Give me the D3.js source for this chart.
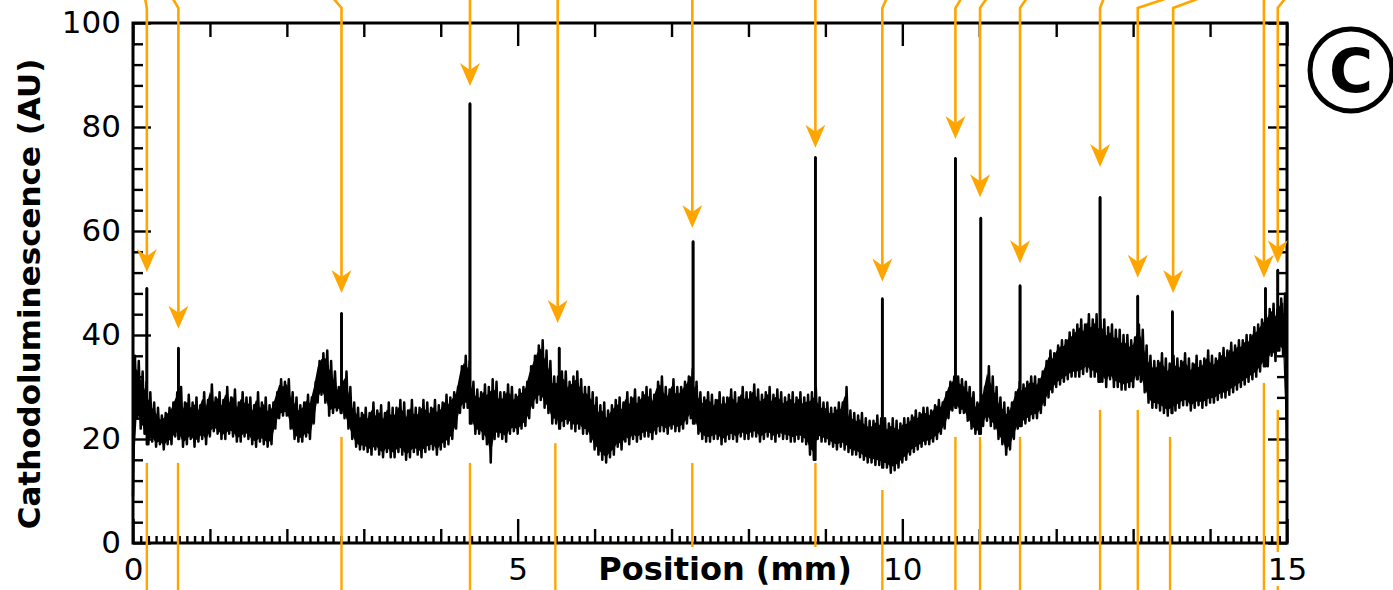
<!DOCTYPE html>
<html><head><meta charset="utf-8">
<script src="https://cdn.jsdelivr.net/npm/d3@7"></script>
<style>body{margin:0;background:#fff} svg{display:block}</style>
</head><body><svg id="c" width="1393" height="590"></svg>
<script>
// ---------- DATA ----------
const stepMM = 0.05; // sampling step of the envelope (mm)
const upper = [
 36,35,33,31,29,27,26,24.5,25,26,27,29,30,27,28.5,27,28,26.5,29,27.5,
 30.5,28,29,27.5,30,28,29.5,27,29,28,28,26.5,29,27,28,26.5,27,29,31.5,31,
 31.5,29,28,26.5,27,28.5,28,31,35,36.5,37,35,33,30,31,33,30,27,26,25,
 26,25,27,25.5,26.5,25,27,26,26,27.5,27,25.5,27.5,26,26,27.5,27,26,27.5,26.5,
 27,28.5,28,29,30,34,36,35,31,29.5,29,30.5,30,31.5,31,29,29,30.5,30,28.5,
 29.5,30,31,34,36,38,39,37,35,32,32,33,33,31,32,33,31.5,30,30,29,
 28,26.5,27,25.5,26.5,27.5,28,27,29,28,29.5,28,29,30,29.5,28.5,31,32,30,29.5,
 31.5,30,30,31,32,33.5,31,29,28,29,28.5,27.5,29,28,28,29.5,29,28,30,29,
 29,30.5,29.5,28.5,29,30,28.5,29.5,29,28,28.5,29,28,29,28,28.5,29,30,28,27,
 27,26,26,27,27,30,25.5,25,24.5,25,24,23.5,23.5,24.5,24,24,23,24,23.5,23,
 24,24,24.5,25.5,25,26,26,25.5,26.5,27.5,27,29,31,32,32,31.5,31,30,29,27,
 28,30,34,32,30,28,27,26,27,29,31,30.5,31,32,32,31.5,33,35,37,36.5,
 38,39,39,40.5,41,42,43,42,44,43,44,43,43,41.5,42,41,41,40,40,39,
 39.5,42,41,38,36,35,35,36.5,35.5,34.5,36,35.5,35,36.5,35.5,34.5,36,35,35.5,37,
 36,35.5,36.5,37.5,37,38.5,38,39,39,40,40,41.5,42,43,44,45,46,45,47,48,
 20];
const lower = [
 9,24,22,21,19,19.5,18.5,19,18,19,19,20.5,20,18.5,19,20,18.5,19.5,20,19,
 20.5,21.5,21,20,20,21,20.5,19.5,19.5,20.5,20,19,18.5,19.5,19,18.5,19,22,24,24.5,
 24.5,22,20,19.5,19.5,20.5,20,23,27,28.5,27,24.5,25,25.5,25,24,22,20,18.5,18,
 18,17.5,17,18,17,16.5,17.5,16.5,16.5,17.5,17,16,16.5,17.5,17,16.5,17.5,18,18,17,
 18,18.5,19,20,22,25,26,26,23,21,21,20,19,15.5,20,20.5,20,19.5,21,21.5,
 21,22,22.5,24,26,27,27.5,26,25,23,23,22,22.5,23,22,21.5,22,21,21,19.5,
 18,17,16,15.5,16.5,17,18.5,18,19.5,19,20,19.5,20,20.5,20.5,20,21,21.5,21.5,21,
 22,21.5,21.5,22,23,24,23,21,20,19.5,19.5,20,20,19,19.5,20,20,19.5,20.5,20,
 20,20.5,20.5,19.5,20,20.5,20,19.5,20.5,20,20,19.5,19.5,20,19.5,19,17,16,20,19.5,
 19.5,19,18.5,18,18.5,18,17.5,17,17,16.5,16,15.5,15.5,15,15,14.5,14.5,13.5,14,14.5,
 15.5,16,17,17.5,18,18.5,19,19,19.5,20,21,22,24,25.5,26,25,25,23.5,22,21,
 21,22.5,23.5,22.5,22,20,19,17,18,20,22,22.5,23,23.5,24,24,25,26.5,28,29,
 30,30.5,31,31.5,32,32,32,32.5,33,32,32,31,31,30,31.5,30,30,29.5,29.5,30,
 30,31.5,31,29,27,26,26,25.5,25,24.5,25,25.5,26,26.5,26.5,25.5,26,26.5,26,26.5,
 27,27,27.5,28,28,28.5,29,29.5,30,30.5,31,31.5,32,33,34,34,36,35,37,36,
 16];
const spikePos = [0.18,0.59,2.71,4.38,5.54,7.28,8.87,9.74,10.69,11.02,11.53,12.57,13.06,13.51,14.72,14.88];
const spikeVal = [49,37.5,44.2,84.5,37.5,58,74.2,47,74,62.5,49.5,66.5,47.5,44.5,49,52.5];

// annotation arrows (mm / AU)
const arrowTopX  = [0.156,0.513,2.60,4.38,5.52,7.27,8.87,9.80,10.77,11.10,11.62,12.62,13.45,13.87,14.70,14.98];
const arrowX     = [0.18,0.59,2.71,4.38,5.52,7.27,8.87,9.74,10.69,11.01,11.53,12.57,13.06,13.52,14.70,14.88];
const arrowTipV  = [52.1,41.2,48.1,87.9,42.3,60.6,76,50.3,77.7,66.5,53.8,72.3,51,48.1,51,53.8];
const stemX      = [0.18,0.585,2.71,4.38,5.49,7.27,8.87,9.74,10.69,11.01,11.53,12.57,13.06,13.48,14.70,14.88];
const stemStartV = [15.4,15.4,20.4,15.4,19.2,15.4,15.4,10.2,20.4,20.4,20.4,25.6,25.6,20.4,30.8,25.6];

const xMajor = [0,5,10,15];
const yMajor = [0,20,40,60,80,100];
const xLabel = "Position (mm)";
const yLabel = "Cathodoluminescence (AU)";
const panelLabel = "C";

// ---------- LAYOUT ----------
const W = 1393, H = 590;
const L = 133, R = 1287, T = 23, B = 543;
const ORANGE = "#ffa500";
const FONT = "DejaVu Sans";
const svg = d3.select("#c");
const x = d3.scaleLinear().domain([0,15]).range([L,R]);
const y = d3.scaleLinear().domain([0,100]).range([B,T]);

// ---------- AXES ----------
function ax(gen, tf, vals, size, labels, pad){
  const a = gen.tickValues(vals).tickSize(size).tickPadding(pad||0);
  if(!labels) a.tickFormat("");
  const g = svg.append("g").attr("transform", tf).call(a);
  g.select(".domain").remove();
  g.selectAll("line").attr("stroke","#000").attr("stroke-width",2.4);
  g.selectAll("text").attr("font-family",FONT).attr("font-size",31).attr("fill","#000");
  return g;
}
const yMinor = d3.range(0,101,4).filter(v=>v%20!==0);
const xMid = d3.range(0,16,1).filter(v=>v%5!==0);
const xMinor = d3.range(0,151,1).filter(v=>v%10!==0).map(v=>v/10);
ax(d3.axisLeft(y), `translate(${L},0)`, yMajor, -18, true, 12);
ax(d3.axisLeft(y), `translate(${L},0)`, yMinor, -10, false);
ax(d3.axisRight(y), `translate(${R},0)`, yMajor, -19, false);
ax(d3.axisRight(y), `translate(${R},0)`, yMinor, -10, false);
ax(d3.axisTop(x), `translate(0,${T})`, xMajor, -23, false);
ax(d3.axisTop(x), `translate(0,${T})`, xMid, -14, false);
ax(d3.axisBottom(x), `translate(0,${B})`, xMid, -14, false);
ax(d3.axisBottom(x), `translate(0,${B})`, xMinor, -7, false);
const xLab = ax(d3.axisBottom(x), `translate(0,${B})`, xMajor, -24, true, 15);

svg.append("rect").attr("x",L).attr("y",T).attr("width",R-L).attr("height",B-T)
  .attr("fill","none").attr("stroke","#000").attr("stroke-width",3);

// ---------- TRACE ----------
const env = lower.map((v,i)=>({p:i*stepMM, lo:v, hi:upper[i]}));
// dense core of the noisy trace
svg.append("path").datum(env)
  .attr("d", d3.area().x(d=>x(d.p))
    .y0(d=>y(d.lo + 0.1*(d.hi-d.lo))).y1(d=>y(d.hi - 0.14*(d.hi-d.lo))))
  .attr("fill","#000");
// noise excursions to the envelope
const pts = [];
env.forEach((d,i)=>{
  pts.push([d.p, d.lo]);
  pts.push([Math.min(15, d.p + stepMM/2), d.hi]);
});
spikePos.forEach((p,k)=>{
  const i = Math.round(p/stepMM);
  const base = lower[i];
  pts.push([p, base],[p, spikeVal[k]],[p, base]);
});
pts.sort((a,b)=>a[0]-b[0]);
const line = d3.line().x(d=>x(d[0])).y(d=>y(d[1]));
svg.append("path").attr("d", line(pts)).attr("fill","none")
  .attr("stroke","#000").attr("stroke-width",2.5).attr("stroke-linejoin","round");
svg.append("g").selectAll("line").data(spikePos).join("line")
  .attr("x1",d=>x(d)).attr("x2",d=>x(d))
  .attr("y1",d=>y(lower[Math.round(d/stepMM)]+4)).attr("y2",(d,k)=>y(spikeVal[k]))
  .attr("stroke","#000").attr("stroke-width",2.8);

// ---------- ARROWS ----------
const startV = y.invert(-2), kinkV = y.invert(8);
const ag = svg.append("g");
arrowX.forEach((ax_,i)=>{
  const tipY = y(arrowTipV[i]);
  ag.append("path")
    .attr("d", `M${x(arrowTopX[i])},${y(startV)}L${x(ax_)},${y(kinkV)}L${x(ax_)},${tipY-14}`)
    .attr("fill","none").attr("stroke",ORANGE).attr("stroke-width",2.6);
  ag.append("path")
    .attr("transform",`translate(${x(ax_)},${tipY})`)
    .attr("d","M0,0L-10,-23L0,-16L10,-23Z").attr("fill",ORANGE);
  ag.append("line")
    .attr("x1",x(stemX[i])).attr("x2",x(stemX[i]))
    .attr("y1",y(stemStartV[i])).attr("y2",H+2)
    .attr("stroke",ORANGE).attr("stroke-width",2.4);
});

// ---------- LABELS ----------
xLab.raise();
const lastLab = xLab.selectAll(".tick").filter(d=>d===15).select("text");
const bb = lastLab.node().getBBox();
xLab.selectAll(".tick").filter(d=>d===15).insert("rect","text")
  .attr("x",bb.x+3).attr("y",bb.y+1).attr("width",bb.width-3).attr("height",bb.height-2).attr("fill","#fff");

const xt = svg.append("text").attr("x",725).attr("y",580).attr("text-anchor","middle")
  .attr("font-family",FONT).attr("font-weight","bold").attr("font-size",32).text(xLabel);
const tb = xt.node().getBBox();
svg.insert("rect", () => xt.node()).attr("x",tb.x-2).attr("y",tb.y-3).attr("width",tb.width+4).attr("height",tb.height+6).attr("fill","#fff");

svg.append("text").attr("transform",`translate(40,294) rotate(-90)`).attr("text-anchor","middle")
  .attr("font-family",FONT).attr("font-weight","bold").attr("font-size",31).text(yLabel);

svg.append("circle").attr("cx",1351).attr("cy",70).attr("r",41)
  .attr("fill","none").attr("stroke","#000").attr("stroke-width",5);
svg.append("text").attr("x",1351).attr("y",92).attr("text-anchor","middle")
  .attr("font-family",FONT).attr("font-weight","bold").attr("font-size",60).text(panelLabel);
</script></body></html>
